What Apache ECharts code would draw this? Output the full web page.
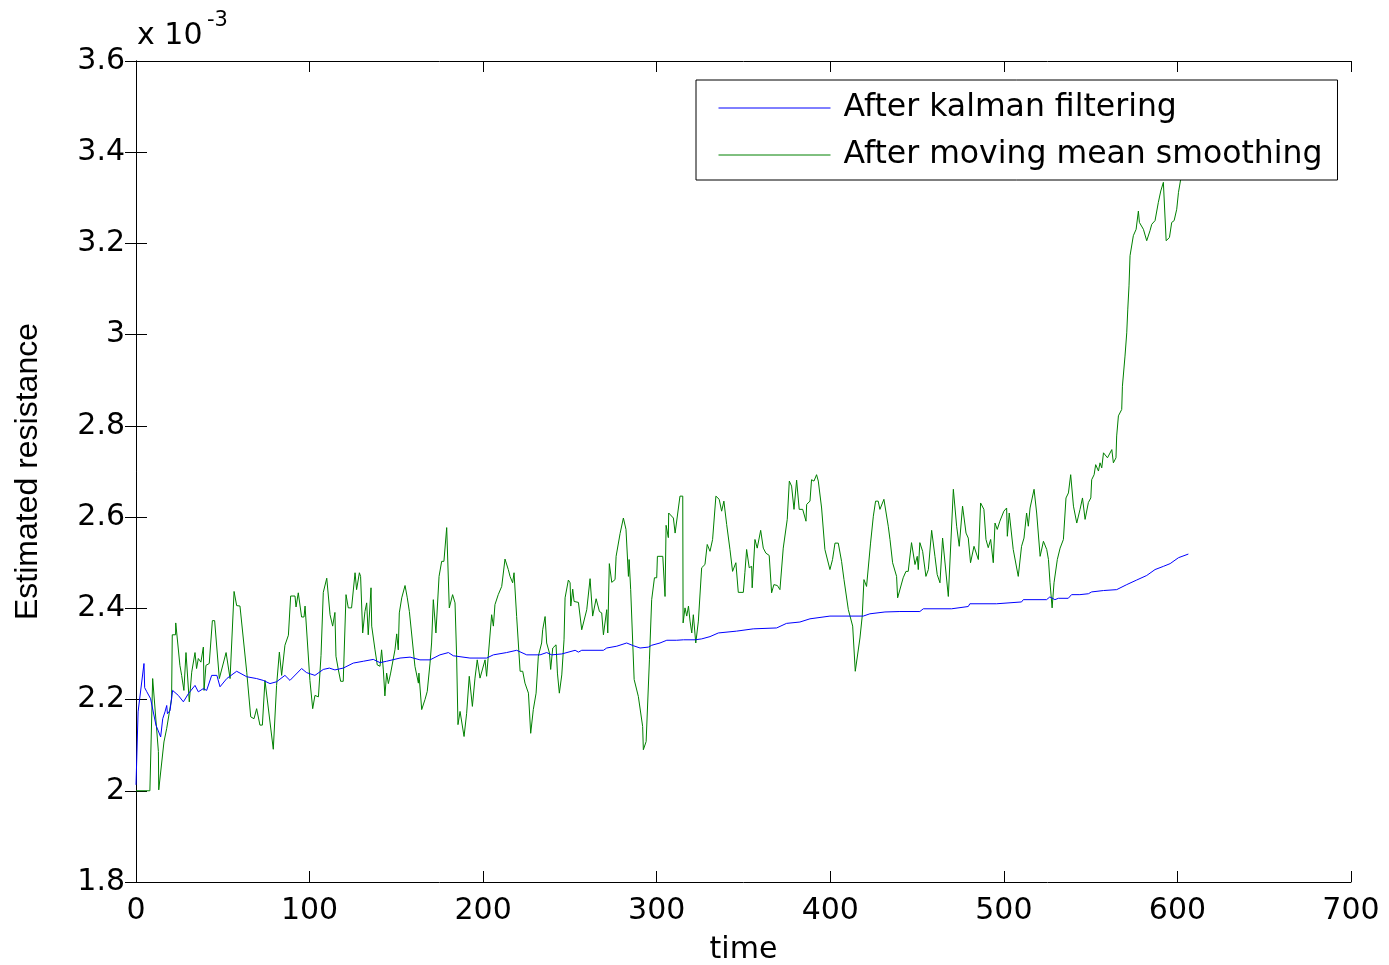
<!DOCTYPE html>
<html>
<head>
<meta charset="utf-8">
<script src="https://cdn.jsdelivr.net/npm/echarts@6/dist/echarts.min.js"></script>
<style>html,body{margin:0;padding:0;background:#fff}#c{width:1389px;height:965px}</style>
</head>
<body>
<div id="c"></div>
<script>
// time values and estimated resistance (x 10^-3)
const kalmanT = [0,1.2,1.8,4.6,5.0,6.1,8.4,11.5,14.2,15.4,16.7,17.7,18.1,19.6,21.1,24.4,27.3,30.2,34.0,35.9,38.8,40.7,43.6,46.6,48.4,52.3,58.0,63.8,69.5,73.3,77.2,81.0,85.8,88.7,95.4,98.3,103.1,107.9,111.4,114.6,119.4,125.2,131.0,136.7,140.6,144.4,152.1,157.9,163.6,169.4,175.1,180.0,182.8,192.4,202.0,205.9,213.5,219.3,225.1,232.8,236.6,239.5,245.3,253.0,254.9,256.8,269.3,271.2,277.0,282.7,286.6,290.4,295.2,297.1,301.9,305.8,311.5,315.4,322.1,325.9,330.7,335.5,346.0,355.6,369.1,374.8,382.5,388.3,399.8,411.3,419.0,422.8,431.5,440.1,451.6,453.6,469.9,470.9,479.5,480.4,495.8,496.8,510.2,511.2,524.6,526.5,529.4,531.4,537.1,539.0,543.8,548.7,550.6,557.4,565.0,570.8,576.5,582.3,587.1,591.9,595.8,600.6,606.3];
const kalmanV = [2.013,2.173,2.173,2.279,2.226,2.218,2.202,2.144,2.118,2.158,2.173,2.187,2.169,2.176,2.220,2.209,2.195,2.213,2.231,2.217,2.224,2.220,2.253,2.253,2.228,2.246,2.262,2.250,2.246,2.242,2.235,2.239,2.253,2.242,2.268,2.259,2.253,2.266,2.269,2.265,2.269,2.280,2.284,2.288,2.281,2.284,2.291,2.293,2.287,2.287,2.298,2.303,2.296,2.291,2.291,2.298,2.303,2.308,2.298,2.298,2.303,2.298,2.300,2.308,2.304,2.308,2.308,2.313,2.317,2.324,2.318,2.313,2.315,2.319,2.324,2.330,2.330,2.331,2.331,2.333,2.338,2.346,2.350,2.355,2.357,2.367,2.370,2.377,2.383,2.383,2.383,2.388,2.392,2.393,2.393,2.399,2.399,2.403,2.404,2.410,2.410,2.414,2.414,2.419,2.419,2.425,2.419,2.422,2.422,2.430,2.430,2.432,2.436,2.439,2.441,2.452,2.462,2.472,2.485,2.492,2.498,2.511,2.519];

const smoothT = [0,8.0,9.6,12.9,13.1,16.1,17.7,20.5,20.9,22.8,22.9,25.3,26.3,27.6,28.8,30.7,32.1,34.0,34.9,35.9,37.4,38.8,39.2,40.3,42.2,44.0,45.3,48.0,51.9,54.2,56.5,58.0,59.9,63.8,66.1,68.0,69.5,71.4,72.8,74.3,79.1,81.0,82.6,83.9,85.8,87.8,89.1,91.6,92.2,93.5,95.4,96.8,97.4,100.2,101.8,103.1,105.1,106.6,107.9,109.9,111.8,112.8,113.3,114.6,115.2,116.6,117.9,119.4,121.0,122.3,124.2,126.2,127.1,128.7,129.4,130.6,131.9,132.9,133.8,135.4,135.8,137.7,139.0,140.6,141.5,142.5,143.4,144.4,145.4,146.7,149.2,150.2,151.1,151.7,153.1,155.0,156.3,157.5,158.4,160.7,162.7,163.0,164.6,166.5,167.8,169.4,170.3,171.3,172.8,174.6,176.1,177.4,179.0,180.5,182.4,183.8,184.7,185.5,186.7,187.6,189.0,190.5,192.0,193.8,195.3,196.6,198.2,201.1,202.0,204.9,205.9,206.8,208.7,210.7,212.6,214.5,215.5,217.0,217.8,219.3,221.3,222.8,224.1,226.1,227.4,228.9,230.5,231.8,233.7,234.3,235.7,236.6,238.2,238.9,240.1,242.0,242.8,243.9,245.3,246.6,247.2,249.1,250.1,250.5,251.6,252.4,254.9,256.8,259.7,261.6,263.1,265.1,267.0,268.3,269.3,271.2,271.8,272.7,274.1,276.0,276.6,278.9,280.8,282.3,283.7,284.1,285.0,287.0,289.4,291.9,292.3,293.9,295.8,297.1,298.7,300.0,300.4,303.5,304.8,305.4,306.7,306.9,309.6,310.6,311.5,313.4,315.0,315.2,316.3,317.3,318.3,319.2,320.2,321.1,322.5,324.0,325.9,327.8,329.1,330.7,332.2,334.1,336.0,337.4,338.7,340.3,342.2,343.7,345.6,347.0,349.9,350.8,351.8,353.3,354.7,355.0,356.6,357.9,359.9,361.4,362.9,364.8,366.2,367.5,369.5,371.0,372.9,375.2,376.4,377.7,379.1,380.6,382.1,384.1,386.0,386.4,388.3,389.2,390.6,392.1,393.1,395.0,396.9,399.8,401.3,402.7,404.6,406.5,407.9,410.4,412.9,414.4,417.1,418.4,419.4,420.9,423.2,424.8,426.1,427.6,428.6,430.9,433.4,434.4,435.9,438.2,438.8,442.0,443.6,444.9,446.8,448.8,450.1,450.7,451.6,453.2,455.1,456.5,458.4,460.3,461.6,463.2,464.7,468.0,470.9,472.8,474.3,476.2,478.2,479.5,480.8,482.8,485.3,486.6,488.5,489.7,491.0,492.4,493.9,494.9,496.2,497.7,500.0,501.6,502.0,503.1,505.4,508.3,510.2,511.6,513.1,514.1,515.1,517.4,518.9,520.9,522.8,524.7,525.7,526.6,527.8,528.9,530.8,532.4,534.3,534.7,535.8,537.2,538.5,540.1,542.0,543.9,545.3,546.8,548.7,550.1,550.6,552.0,552.9,554.5,555.4,556.4,557.4,559.7,562.2,563.1,564.6,565.0,566.0,567.9,568.3,569.8,570.8,571.4,572.1,572.7,574.6,576.2,577.5,578.1,580.4,582.3,584.2,585.2,587.1,589.0,590.4,591.9,593.5,595.4,596.7,598.1,599.6,600.6,601.9,604.0,606.0];
const smoothV = [2.000,2.000,2.246,2.086,2.002,2.107,2.137,2.202,2.342,2.342,2.368,2.275,2.253,2.220,2.303,2.195,2.260,2.303,2.268,2.290,2.282,2.315,2.220,2.275,2.279,2.373,2.373,2.246,2.303,2.246,2.437,2.406,2.405,2.260,2.162,2.158,2.180,2.144,2.144,2.242,2.091,2.231,2.304,2.253,2.319,2.341,2.427,2.427,2.403,2.434,2.381,2.381,2.405,2.242,2.180,2.209,2.206,2.297,2.435,2.466,2.386,2.386,2.361,2.391,2.295,2.265,2.240,2.240,2.430,2.401,2.401,2.478,2.441,2.478,2.470,2.346,2.393,2.412,2.342,2.445,2.361,2.309,2.276,2.273,2.309,2.265,2.208,2.258,2.235,2.258,2.309,2.344,2.309,2.390,2.423,2.450,2.423,2.393,2.391,2.273,2.236,2.258,2.178,2.200,2.218,2.280,2.324,2.419,2.346,2.470,2.503,2.503,2.577,2.401,2.430,2.412,2.298,2.145,2.174,2.178,2.119,2.170,2.251,2.185,2.247,2.287,2.247,2.287,2.251,2.386,2.361,2.408,2.430,2.448,2.508,2.485,2.470,2.456,2.478,2.382,2.262,2.262,2.236,2.214,2.126,2.178,2.214,2.295,2.324,2.353,2.382,2.324,2.302,2.266,2.313,2.320,2.258,2.214,2.254,2.331,2.423,2.462,2.456,2.405,2.442,2.415,2.413,2.353,2.397,2.465,2.383,2.421,2.393,2.390,2.342,2.397,2.346,2.498,2.457,2.463,2.514,2.564,2.598,2.573,2.470,2.507,2.441,2.244,2.207,2.141,2.090,2.108,2.287,2.419,2.467,2.467,2.514,2.514,2.426,2.582,2.555,2.609,2.598,2.565,2.562,2.646,2.646,2.368,2.401,2.383,2.405,2.372,2.346,2.386,2.324,2.372,2.489,2.496,2.540,2.525,2.551,2.646,2.639,2.613,2.635,2.584,2.529,2.481,2.500,2.435,2.435,2.478,2.529,2.489,2.492,2.445,2.551,2.532,2.571,2.532,2.521,2.516,2.434,2.452,2.450,2.441,2.532,2.595,2.679,2.668,2.617,2.681,2.617,2.617,2.591,2.628,2.635,2.682,2.679,2.693,2.679,2.620,2.529,2.485,2.507,2.543,2.543,2.503,2.463,2.397,2.361,2.262,2.335,2.383,2.463,2.448,2.543,2.602,2.635,2.635,2.617,2.639,2.580,2.551,2.500,2.470,2.423,2.467,2.481,2.481,2.544,2.496,2.514,2.485,2.544,2.525,2.470,2.485,2.571,2.514,2.474,2.456,2.554,2.426,2.661,2.580,2.536,2.624,2.565,2.554,2.500,2.536,2.507,2.631,2.617,2.551,2.533,2.551,2.500,2.587,2.573,2.591,2.613,2.620,2.558,2.609,2.529,2.470,2.536,2.554,2.609,2.580,2.620,2.661,2.609,2.514,2.547,2.529,2.507,2.456,2.401,2.456,2.507,2.532,2.551,2.547,2.642,2.653,2.693,2.624,2.587,2.617,2.642,2.595,2.632,2.642,2.682,2.693,2.715,2.701,2.719,2.708,2.741,2.730,2.748,2.719,2.730,2.778,2.822,2.836,2.887,2.953,3.004,3.056,3.107,3.173,3.217,3.231,3.271,3.246,3.231,3.206,3.228,3.242,3.250,3.290,3.315,3.334,3.206,3.213,3.246,3.250,3.275,3.312,3.341,3.40,3.45];

const seriesNames = ['After kalman filtering', 'After moving mean smoothing'];
const xTicks = {min: 0, max: 700, interval: 100};
const yTicks = {min: 1.8, max: 3.6, interval: 0.2};

const pairs = (t, v) => t.map((x, i) => [x, v[i]]);
const FONT = 'DejaVu Sans';
const tickStyle = {show: true, inside: true, length: 11, lineStyle: {color: '#000', width: 1}};
const lineStyle = {show: true, lineStyle: {color: '#000', width: 1}};

const chart = echarts.init(document.getElementById('c'), null, {renderer: 'canvas'});
chart.setOption({
  animation: false,
  backgroundColor: '#fff',
  grid: {left: 136, top: 61, width: 1215, height: 821, containLabel: false, outerBoundsMode: 'none'},
  xAxis: [
    {type: 'value', position: 'bottom', min: xTicks.min, max: xTicks.max, interval: xTicks.interval,
     name: 'time', nameLocation: 'middle', nameGap: 53,
     nameTextStyle: {fontFamily: FONT, fontSize: 30, color: '#000'},
     axisLine: lineStyle, axisTick: tickStyle, splitLine: {show: false},
     axisLabel: {fontFamily: FONT, fontSize: 30, color: '#000', margin: 14}},
    {type: 'value', position: 'top', min: xTicks.min, max: xTicks.max, interval: xTicks.interval,
     axisLine: lineStyle, axisTick: tickStyle, splitLine: {show: false}, axisLabel: {show: false}}
  ],
  yAxis: [
    {type: 'value', position: 'left', min: yTicks.min, max: yTicks.max, interval: yTicks.interval,
     name: 'Estimated resistance', nameLocation: 'middle', nameGap: 92,
     nameTextStyle: {fontFamily: 'Liberation Sans', fontSize: 32, color: '#000'},
     axisLine: lineStyle, axisTick: tickStyle, splitLine: {show: false},
     axisLabel: {fontFamily: FONT, fontSize: 30, color: '#000', margin: 11}},
    {type: 'value', position: 'right', min: yTicks.min, max: yTicks.max, interval: yTicks.interval,
     axisLine: lineStyle, axisTick: tickStyle, splitLine: {show: false}, axisLabel: {show: false}}
  ],
  legend: {
    show: true, orient: 'vertical', left: 696, top: 80, z: 20,
    backgroundColor: '#ffffff', borderColor: '#000000', borderWidth: 1,
    padding: [12, 15, 9, 22], itemGap: 15, itemWidth: 112, itemHeight: 14,
    itemStyle: {opacity: 0},
    lineStyle: {width: 1},
    textStyle: {fontFamily: FONT, fontSize: 31.5, color: '#000', lineHeight: 32, padding: [0, 0, 0, 8]},
    data: seriesNames
  },
  series: [
    {name: seriesNames[0], type: 'line', xAxisIndex: 0, yAxisIndex: 0, data: pairs(kalmanT, kalmanV),
     symbol: 'none', showSymbol: false, lineStyle: {color: '#0000ff', width: 1}, itemStyle: {color: '#0000ff'}, z: 3},
    {name: seriesNames[1], type: 'line', xAxisIndex: 0, yAxisIndex: 0, data: pairs(smoothT, smoothV),
     symbol: 'none', showSymbol: false, lineStyle: {color: '#008000', width: 1}, itemStyle: {color: '#008000'}, z: 2}
  ],
  graphic: [
    {type: 'text', left: 137, top: 21, style: {text: 'x 10', font: '30px "DejaVu Sans"', fill: '#000'}},
    {type: 'text', left: 207, top: 10, style: {text: '-3', font: '21px "DejaVu Sans"', fill: '#000'}}
  ]
});
</script>
</body>
</html>
